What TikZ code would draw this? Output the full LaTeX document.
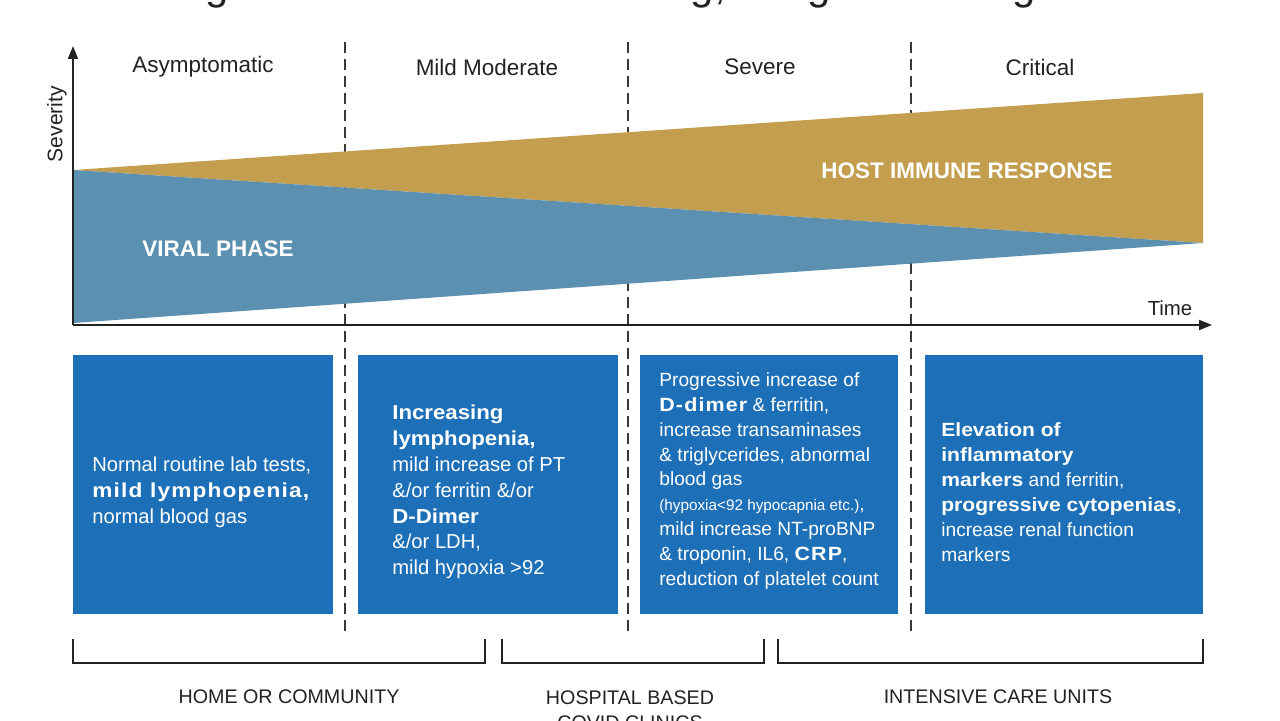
\documentclass[tikz,border=0pt]{standalone}
\usepackage{fontspec}
\setmainfont{Liberation Sans}
\newfontfamily\blk[FakeStretch=1.1]{Liberation Sans}
\newfontfamily\blkw[FakeStretch=1.12,LetterSpace=6]{Liberation Sans}
\usetikzlibrary{arrows.meta}
\definecolor{boxblue}{HTML}{1D70B7}
\definecolor{viral}{HTML}{5B90B1}
\definecolor{host}{HTML}{C49E4F}
\definecolor{ink}{HTML}{222222}
\tikzset{
  axisline/.style={draw=ink, line width=0.04cm, -{Triangle[length=0.26cm,width=0.2cm]}},
  phasesep/.style={draw=ink!90, line width=0.03cm, dash pattern=on 0.22cm off 0.12cm},
  phaselabel/.style={text=ink, inner sep=0, font=\fontsize{12.8}{15}\selectfont},
  bandlabel/.style={text=white, inner sep=0, font=\bfseries\fontsize{12.8}{15}\selectfont},
  mbox/.style={fill=boxblue},
  btxt/.style={text=white, align=left, inner sep=0, anchor=west, font=\fontsize{11.5}{14.7}\selectfont},
  btxtsm/.style={text=white, align=left, inner sep=0, anchor=west, font=\fontsize{10.9}{14.17}\selectfont},
  brk/.style={draw=ink, line width=0.035cm},
  setting/.style={text=ink, inner sep=0, align=center, font=\fontsize{11.2}{14.2}\selectfont},
}
\begin{document}
\begin{tikzpicture}[x=0.02cm,y=-0.02cm]
\useasboundingbox (0,0) rectangle (1280,720);
% title (cut off at top)
\node[anchor=base west, inner sep=0, text=ink, font=\fontsize{23.8}{28}\selectfont] (title) at (112,-1) {Biological Markers for Screening, Triage and Prognosis};
% phase separators
\foreach \x/\n in {345/s1,628/s2,911/s3}{
  \coordinate (\n top) at (\x,42);
  \coordinate (\n bot) at (\x,635);
  \draw[phasesep] (\n top) -- (\n bot);
}
% bands
\fill[host] (73,170) -- (1203,93) -- (1203,243) -- cycle;
\fill[viral] (73,170) -- (1203,243) -- (73,323) -- cycle;
% axes
\coordinate (O) at (73,325);
\coordinate (ytip) at (73,46);
\coordinate (xtip) at (1212,325);
\draw[axisline] (O) -- (ytip);
\draw[axisline] (O) -- (xtip);
\node[phaselabel, rotate=90, font=\fontsize{12}{14}\selectfont] (sev) at (57,124) {Severity};
\node[phaselabel, font=\fontsize{11.6}{14}\selectfont] (time) at (1170,308) {Time};
% phase labels
\node[phaselabel] (p1) at (203,67) {Asymptomatic};
\node[phaselabel] (p2) at (487,67) {Mild Moderate};
\node[phaselabel] (p3) at (760,67) {Severe};
\node[phaselabel] (p4) at (1040,67) {Critical};
% band labels
\node[bandlabel] (viraltxt) at (218,249) {VIRAL PHASE};
\node[bandlabel] (hosttxt) at (967,171) {HOST IMMUNE RESPONSE};
% boxes
\path[mbox] (73,355) rectangle (333,614);
\path[mbox] (358,355) rectangle (618,614);
\path[mbox] (640,355) rectangle (898,614);
\path[mbox] (925,355) rectangle (1203,614);
\node[btxt] (t1) at (92,492) {Normal routine lab tests,\\{\blkw\bfseries mild lymphopenia,}\\normal blood gas};
\node[btxt] (t2) at (392,492) {{\blk\bfseries Increasing}\\{\blk\bfseries lymphopenia,}\\mild increase of PT\\\&/or ferritin \&/or\\{\blk\bfseries D-Dimer}\\\&/or LDH,\\mild hypoxia >92};
\node[btxtsm] (t3) at (659,481) {Progressive increase of\\{\blkw\bfseries D-dimer} \& ferritin,\\increase transaminases\\\& triglycerides, abnormal\\blood gas\\{\fontsize{8.7}{14.17}\selectfont(hypoxia<92 hypocapnia etc.)},\\mild increase NT-proBNP\\\& troponin, IL6, {\blkw\bfseries CRP},\\reduction of platelet count};
\node[btxtsm] (t4) at (941,492) {{\blk\bfseries Elevation of}\\{\blk\bfseries inflammatory}\\{\blk\bfseries markers} and ferritin,\\{\blk\bfseries progressive cytopenias},\\increase renal function\\markers};
% brackets
\draw[brk] (73,639) |- (485,663) -- (485,639);
\draw[brk] (502,639) |- (764,663) -- (764,639);
\draw[brk] (778,639) |- (1203,663) -- (1203,639);
\node[setting] (home) at (289,697) {HOME OR COMMUNITY};
\node[setting, anchor=north] (hosp) at (630,690) {HOSPITAL BASED\\COVID CLINICS};
\node[setting] (icu) at (998,697) {INTENSIVE CARE UNITS};
\end{tikzpicture}
\end{document}
